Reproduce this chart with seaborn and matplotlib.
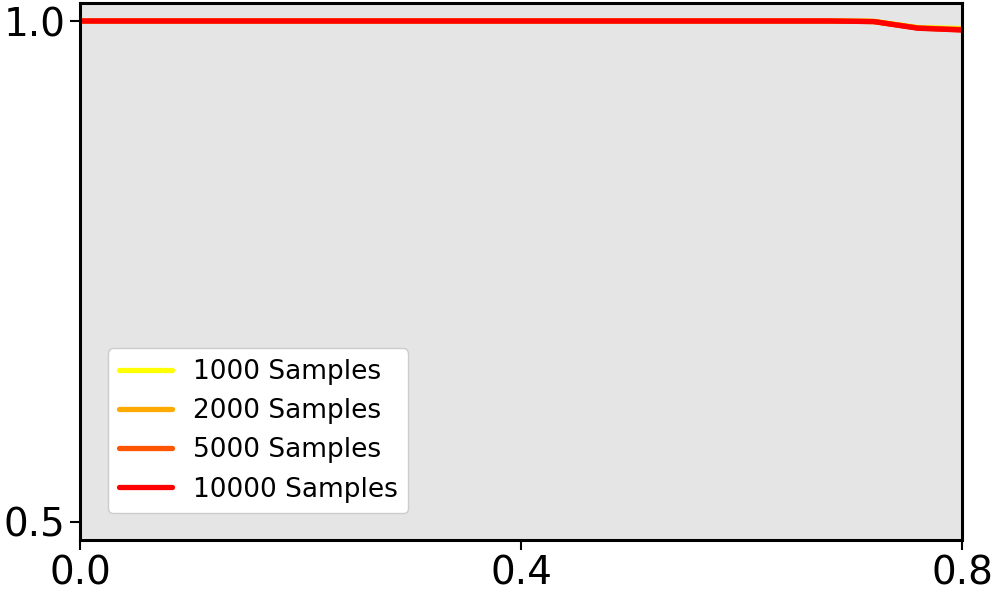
import numpy as np
import pandas as pd
import matplotlib
matplotlib.use('Agg')
import matplotlib.pyplot as plt
import seaborn as sns

x = [0.0, 0.04, 0.08, 0.12, 0.16, 0.2, 0.24, 0.28, 0.32, 0.36, 0.4,
     0.44, 0.48, 0.52, 0.56, 0.6, 0.64, 0.68, 0.72, 0.76, 0.8]

acc_1000 = [1.0] * 18 + [0.9996, 0.9935, 0.9925]
acc_2000 = [1.0] * 18 + [0.9995, 0.9932, 0.9918]
acc_5000 = [1.0] * 18 + [0.9995, 0.9930, 0.9912]
acc_10000 = [1.0] * 18 + [0.9994, 0.9928, 0.9910]

labels = ['1000 Samples', '2000 Samples', '5000 Samples', '10000 Samples']
series = [acc_1000, acc_2000, acc_5000, acc_10000]
colors = [plt.cm.autumn_r(v) for v in np.linspace(0, 1, 4)]

sns.set_style('white')
plt.rcParams['font.family'] = ['DejaVu Sans']
plt.rcParams['text.color'] = 'black'
plt.rcParams['xtick.color'] = 'black'
plt.rcParams['ytick.color'] = 'black'

fig = plt.figure(figsize=(9.96, 5.96), dpi=100)
ax = fig.add_axes([0.0803, 0.094, 0.8856, 0.901])
ax.set_facecolor('#e5e5e5')

for lab, vals, c in zip(labels, series, colors):
    df = pd.DataFrame({'x': x, 'y': vals})
    sns.lineplot(data=df, x='x', y='y', ax=ax, color=c, linewidth=3.8, label=lab)

ax.set_xlim(0, 0.8)
ax.set_ylim(0.482, 1.018)
ax.set_xticks([0.0, 0.4, 0.8])
ax.set_yticks([0.5, 1.0])
ax.set_xlabel('')
ax.set_ylabel('')
ax.tick_params(axis='both', labelsize=28, length=7, width=1.5, colors='black',
               direction='out', left=True, bottom=True)
for s in ax.spines.values():
    s.set_color('black')
    s.set_linewidth(2.2)

leg = ax.legend(loc='lower left', bbox_to_anchor=(0.032, 0.05), borderaxespad=0,
                fontsize=19, frameon=True, fancybox=True, framealpha=1.0,
                edgecolor='#cccccc')
for t in leg.get_texts():
    t.set_color('black')

fig.savefig('out.png', dpi=100)
